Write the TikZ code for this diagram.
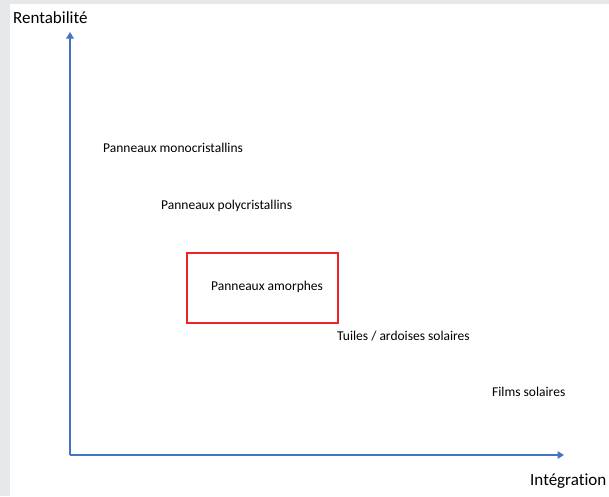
\documentclass[tikz,border=0pt]{standalone}
\usepackage{fontspec}
\setmainfont[Ligatures=NoCommon]{Carlito}
\usetikzlibrary{arrows.meta}
\definecolor{axisblue}{HTML}{4472C4}
\definecolor{boxred}{HTML}{EC2328}
\definecolor{framegray}{HTML}{E7E8EA}
\begin{document}
\begin{tikzpicture}[x=1pt,y=-1pt,
  axis/.style={draw=axisblue,line width=2.2pt,-{Triangle[length=6.5pt,width=7.5pt]}},
  axislabel/.style={font=\fontsize{17}{20}\selectfont,inner sep=0pt,anchor=west},
  item/.style={font=\fontsize{13.5}{16}\selectfont,inner sep=0pt,anchor=west},
  redbox/.style={draw=boxred,line width=2pt,minimum width=151pt,minimum height=70pt,inner sep=0pt}]
\useasboundingbox (0,0) rectangle (609,496);
\fill[framegray] (0,0) rectangle (609,496);
\fill[white] (10,3.5) rectangle (609,496);
\coordinate (o) at (70,455);
\coordinate (ytop) at (70,32);
\coordinate (xend) at (564,455);
\draw[axis] (o) -- (ytop);
\draw[axis] (o) -- (xend);
\node[axislabel] (ylab) at (13,18) {Rentabilité};
\node[axislabel] (xlab) at (530,481) {Intégration};
\node[item] (mono) at (103,148) {Panneaux monocristallins};
\node[item] (poly) at (161,206) {Panneaux polycristallins};
\node[redbox] (box) at (262.5,288) {};
\node[item] (amor) at (211,287) {Panneaux amorphes};
\node[item] (tuiles) at (337,336) {Tuiles / ardoises solaires};
\node[item] (films) at (492,392) {Films solaires};
\end{tikzpicture}
\end{document}
